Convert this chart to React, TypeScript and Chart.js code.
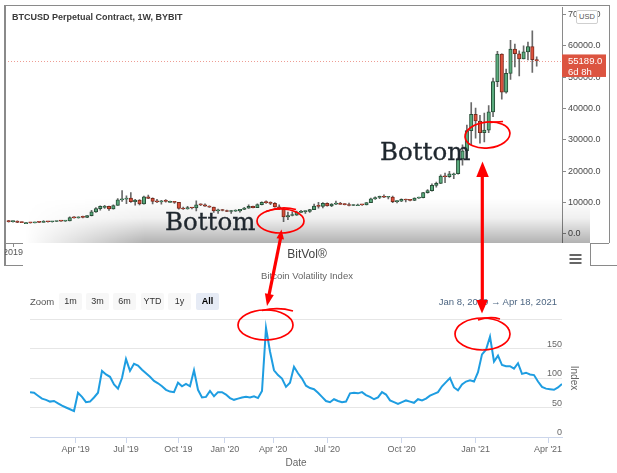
import React, { useEffect, useRef } from "react";
import { Chart, registerables } from "chart.js";

Chart.register(...registerables);

// ---------- Top chart: BTCUSD weekly candles (week 0 = 2018-12-24) ----------
const candleOpen = [
  4000, 3850, 4050, 3600, 3550, 3550, 3450, 3650, 3620, 3850, 3820, 3900, 4000, 3990, 4100, 5150, 5050, 5300, 5200, 5750,
  6950, 8000, 8700, 8700, 7950, 9000, 10800, 11000, 11400, 10200, 10700, 9500, 11800, 11300, 10300, 10150, 10350, 10300, 10300, 10000,
  8100, 7900, 8300, 8200, 9250, 9200, 8800, 8500, 7300, 7500, 7400, 7100, 7200, 7300, 7750, 8180, 8700, 8350, 9300, 10000,
  9900, 9700, 8550, 7950, 5350, 5800, 5900, 6800, 7050, 7100, 7700, 8800, 8700, 9700, 8900, 9450, 9700, 9350, 9300, 9000,
  9250, 9250, 9180, 9900, 11100, 11550, 11900, 11650, 11700, 10250, 10350, 10950, 10750, 10650, 11350, 11500, 13100, 13750, 15450, 16050,
  18400, 18200, 19150, 19150, 23850, 26450, 32950, 38150, 36000, 32250, 33100, 38900, 48600, 57400, 45200, 51200, 59000, 57500, 55800, 58100,
  59800, 55600,
];
const candleHigh = [
  4250, 4100, 4100, 3800, 3650, 3600, 3700, 3700, 4200, 3900, 3950, 4050, 4100, 4150, 5400, 5450, 5350, 5650, 5800, 7500,
  8300, 8900, 9050, 8800, 9250, 11200, 13800, 12100, 13100, 11000, 10900, 12000, 12300, 11450, 10950, 10650, 10900, 10450, 10300, 10050,
  8500, 8700, 8450, 10500, 9500, 9500, 8900, 8500, 7850, 7750, 7550, 7500, 7650, 7550, 8450, 9200, 8800, 9550, 10150, 10500,
  10200, 9950, 9200, 8200, 6900, 6950, 7200, 7450, 7300, 7750, 9450, 10050, 9900, 9850, 9650, 10400, 10000, 9600, 9750, 9300,
  9450, 9250, 9950, 11400, 11800, 12050, 12450, 11800, 12050, 10600, 11150, 11050, 10950, 11450, 11700, 13250, 14100, 15950, 16500, 18800,
  19400, 19900, 19400, 24200, 28400, 34700, 41900, 40100, 37800, 38500, 40900, 49700, 58300, 57500, 52600, 61800, 60600, 58400, 60000, 61200,
  64800, 56500,
];
const candleLow = [
  3650, 3700, 3550, 3500, 3450, 3380, 3400, 3550, 3600, 3700, 3700, 3850, 3900, 3950, 4100, 4950, 4950, 5000, 5150, 5700,
  6800, 7500, 8100, 7450, 7800, 9000, 10300, 9600, 10000, 9100, 9200, 9400, 11200, 9500, 9900, 9400, 10050, 9950, 9650, 7800,
  7750, 7800, 7900, 7300, 8950, 8700, 8400, 6800, 6500, 7250, 7000, 6450, 7100, 6900, 7700, 8100, 8250, 8300, 9150, 9700,
  9300, 8500, 7650, 3800, 4500, 5700, 5850, 6750, 6500, 6800, 7650, 8150, 8200, 8800, 8650, 9300, 9350, 9200, 8900, 8950,
  9100, 9050, 9150, 9900, 10950, 11150, 11500, 11100, 9900, 9850, 10200, 10150, 10450, 10550, 11250, 11400, 12950, 13600, 14850, 15950,
  16300, 18000, 17600, 19000, 21900, 26000, 28400, 30500, 28900, 29300, 32300, 37400, 47000, 43000, 44900, 49300, 53300, 50400, 55800, 55500,
  51500, 53500,
];
const candleClose = [
  3850, 4050, 3600, 3550, 3550, 3450, 3650, 3620, 3850, 3820, 3900, 4000, 3990, 4100, 5150, 5050, 5300, 5200, 5750, 6950,
  8000, 8700, 8700, 7950, 9000, 10800, 11000, 11400, 10200, 10700, 9500, 11800, 11300, 10300, 10150, 10350, 10300, 10300, 10000, 8100,
  7900, 8300, 8200, 9250, 9200, 8800, 8500, 7300, 7500, 7400, 7100, 7200, 7300, 7750, 8180, 8700, 8350, 9300, 10000, 9900,
  9700, 8550, 7950, 5350, 5800, 5900, 6800, 7050, 7100, 7700, 8800, 8700, 9700, 8900, 9450, 9700, 9350, 9300, 9000, 9250,
  9250, 9180, 9900, 11100, 11550, 11900, 11650, 11700, 10250, 10350, 10950, 10750, 10650, 11350, 11500, 13100, 13750, 15450, 16050, 18400,
  18200, 19150, 19150, 23850, 26450, 32950, 38150, 36000, 32250, 33100, 38900, 48600, 57400, 45200, 51200, 59000, 57500, 55800, 58100, 59800,
  55600, 55189,
];
const priceTicks = [0, 10000, 20000, 30000, 40000, 50000, 60000, 70000];
const lastPrice = candleClose[candleClose.length - 1];
const timeLeftLabel = "6d 8h";
const topTitle = "BTCUSD Perpetual Contract, 1W, BYBIT";

// ---------- Bottom chart: BitVol (ordinal, evenly spaced samples) ----------
const bitvolValues = [
  76, 75, 70, 65, 63, 60, 61, 57, 53, 50, 47, 44, 75, 68, 59, 60, 67, 75, 112, 106,
  102, 89, 82, 100, 132, 112, 124, 121, 114, 108, 102, 95, 91, 86, 80, 77, 76, 92, 86, 90,
  86, 113, 80, 67, 68, 78, 69, 76, 76, 72, 66, 63, 65, 67, 68, 67, 69, 66, 78, 185,
  145, 113, 105, 99, 85, 92, 119, 108, 99, 87, 83, 81, 75, 68, 61, 59, 64, 61, 59, 60,
  74, 75, 74, 76, 71, 68, 64, 67, 76, 72, 62, 59, 56, 59, 62, 60, 58, 64, 62, 65,
  70, 73, 76, 86, 93, 100, 84, 79, 89, 94, 96, 94, 110, 140, 148, 170, 128, 138, 122, 120,
  120, 116, 125, 107, 109, 106, 105, 94, 85, 82, 81, 80, 84, 90,
];
const bitvolTickLabels = ["Apr '19", "Jul '19", "Oct '19", "Jan '20", "Apr '20", "Jul '20", "Oct '20", "Jan '21", "Apr '21"];
const bitvolTickIndex = [11.4, 24, 37.1, 48.7, 60.8, 74.3, 92.9, 111.4, 129.5];
const bitvolYTicks = [0, 50, 100, 150, 200];
const zoomButtons = ["1m", "3m", "6m", "YTD", "1y", "All"];
const rangeText = "Jan 8, 2019 \u2192 Apr 18, 2021";

const SANS = "'Liberation Sans', Arial, sans-serif";

const priceLinePlugin = {
  id: "priceLine",
  beforeDatasetsDraw(chart: any) {
    const { ctx, chartArea, scales } = chart;
    const y = Math.round(scales.y.getPixelForValue(lastPrice)) + 0.5;
    ctx.save();
    ctx.strokeStyle = "#ee9d94";
    ctx.lineWidth = 1;
    ctx.setLineDash([1, 2]);
    ctx.beginPath();
    ctx.moveTo(chartArea.left, y);
    ctx.lineTo(chartArea.right, y);
    ctx.stroke();
    ctx.restore();
  },
  afterDraw(chart: any) {
    const { ctx, chartArea, scales } = chart;
    const y = scales.y.getPixelForValue(lastPrice);
    ctx.save();
    ctx.fillStyle = "#dc5440";
    ctx.fillRect(chartArea.right, y - 6.5, 44, 22.5);
    ctx.fillStyle = "#ffffff";
    ctx.font = "9.5px " + SANS;
    ctx.textAlign = "left";
    ctx.textBaseline = "middle";
    ctx.fillText(lastPrice.toFixed(1), chartArea.right + 6, y + 0.5);
    ctx.fillText(timeLeftLabel, chartArea.right + 6, y + 11.5);
    ctx.restore();
  },
};

export default function App() {
  const topRef = useRef<HTMLCanvasElement>(null);
  const botRef = useRef<HTMLCanvasElement>(null);

  useEffect(() => {
    Chart.defaults.font.family = SANS;
    const isUp = candleClose.map((c, i) => c >= candleOpen[i]);
    const top = new Chart(topRef.current as HTMLCanvasElement, {
      type: "bar",
      data: {
        datasets: [
          {
            label: "wick",
            data: candleHigh.map((h, i) => ({ x: i, y: [candleLow[i], h] })) as any,
            backgroundColor: "#6a6a6a",
            barThickness: 1,
            grouped: false,
            order: 2,
          } as any,
          {
            label: "body",
            data: candleOpen.map((o, i) => ({ x: i, y: [o, candleClose[i]] })) as any,
            backgroundColor: isUp.map((u) => (u ? "#5aab7d" : "#de513c")),
            borderColor: isUp.map((u) => (u ? "#284f38" : "#7a2a1d")),
            borderWidth: 1,
            borderSkipped: false,
            barThickness: 3.5,
            minBarLength: 1,
            grouped: false,
            order: 1,
          } as any,
        ],
      },
      options: {
        animation: false,
        responsive: false,
        maintainAspectRatio: false,
        layout: { padding: { left: 5, top: 5, right: 0, bottom: 7 } },
        plugins: { legend: { display: false }, tooltip: { enabled: false } },
        scales: {
          x: { type: "linear", display: false, min: -0.83, max: 126.8, offset: false },
          y: {
            position: "right",
            min: -2850,
            max: 72300,
            afterBuildTicks: (s: any) => {
              s.ticks = priceTicks.map((v) => ({ value: v }));
            },
            afterFit: (s: any) => {
              s.width = 55;
            },
            grid: { drawOnChartArea: false, drawTicks: true, tickLength: 4, color: "#8a8a8a" },
            border: { display: true, color: "#8a8a8a" },
            ticks: {
              padding: 2,
              color: "#4a4a4a",
              font: { size: 9 },
              callback: (v: any) => Number(v).toFixed(1),
            },
          },
        },
      } as any,
      plugins: [priceLinePlugin],
    });

    const bot = new Chart(botRef.current as HTMLCanvasElement, {
      type: "line",
      data: {
        datasets: [
          {
            data: bitvolValues.map((v, i) => ({ x: i, y: v })),
            borderColor: "#1e9de1",
            borderWidth: 2,
            pointRadius: 0,
            tension: 0,
            fill: false,
          },
        ],
      },
      options: {
        animation: false,
        responsive: false,
        maintainAspectRatio: false,
        layout: { padding: { left: 30, top: 19, right: 0, bottom: 0 } },
        plugins: { legend: { display: false }, tooltip: { enabled: false } },
        scales: {
          x: {
            type: "linear",
            min: 0,
            max: bitvolValues.length - 1,
            afterBuildTicks: (s: any) => {
              s.ticks = bitvolTickIndex.map((v) => ({ value: v }));
            },
            afterFit: (s: any) => {
              s.height = 36;
            },
            grid: { drawOnChartArea: false, drawTicks: true, tickLength: 6, color: "#ccd6eb" },
            border: { display: true, color: "#ccd6eb" },
            ticks: {
              autoSkip: false,
              maxRotation: 0,
              padding: 1,
              color: "#666",
              font: { size: 9 },
              callback: (_v: any, i: number) => bitvolTickLabels[i],
            },
            title: { display: true, text: "Date", color: "#666", font: { size: 10 }, padding: { top: 0, bottom: 4 } },
          },
          y: {
            position: "right",
            min: 0,
            max: 200,
            afterBuildTicks: (s: any) => {
              s.ticks = bitvolYTicks.map((v) => ({ value: v }));
            },
            afterFit: (s: any) => {
              s.width = 55;
            },
            grid: { color: "#e6e6e6", drawTicks: false },
            border: { display: false },
            ticks: {
              mirror: true,
              padding: 0,
              labelOffset: -4,
              color: "#666",
              font: { size: 9 },
              callback: (v: any) => (v === 200 ? "" : String(v)),
            },
            title: { display: true, text: "Index", color: "#666", font: { size: 10 }, padding: { top: 37.5, bottom: 0 } },
          },
        },
      } as any,
    });

    return () => {
      top.destroy();
      bot.destroy();
    };
  }, []);

  const line = (l: number, t: number, w: number, h: number, c = "#8a8a8a") => (
    <div style={{ position: "absolute", left: l, top: t, width: w, height: h, background: c }} />
  );

  const btnLeft = [59, 86, 113, 141, 168, 196];

  return (
    <div
      style={{
        position: "absolute",
        left: 0,
        top: 0,
        width: 617,
        height: 473,
        background: "#fff",
        overflow: "hidden",
        fontFamily: SANS,
      }}
    >
      <canvas ref={topRef} width={617} height={250} style={{ position: "absolute", left: 0, top: 0, width: 617, height: 250 }} />
      {/* shading under top chart */}
      <div
        style={{
          position: "absolute",
          left: 5,
          top: 198,
          width: 585,
          height: 45,
          background: "linear-gradient(to bottom, rgba(0,0,0,0) 0%, rgba(0,0,0,0.06) 45%, rgba(0,0,0,0.3) 100%)",
          WebkitMaskImage: "linear-gradient(to right, transparent 20px, black 140px)",
          maskImage: "linear-gradient(to right, transparent 20px, black 140px)",
        } as any}
      />
      {/* frame lines */}
      {line(4, 5, 605, 1)}
      {line(4, 5, 1.5, 260)}
      {line(609, 5, 1, 238)}
      {line(5, 243, 18, 1)}
      {line(13, 243, 1, 4)}
      {line(4, 265, 19, 1)}
      {line(590, 243, 19, 1)}
      {line(590, 243, 1, 22)}
      {line(590, 265, 27, 1)}
      <div style={{ position: "absolute", left: 5, top: 247, width: 18, height: 14, overflow: "hidden" }}>
        <div style={{ position: "absolute", left: -11, top: 0, width: 38, textAlign: "center", fontSize: 9, color: "#555" }}>2019</div>
      </div>
      <div style={{ position: "absolute", left: 12, top: 12, fontSize: 9, fontWeight: 600, color: "#3a3a3a", whiteSpace: "nowrap" }}>
        {topTitle}
      </div>
      <div
        style={{
          position: "absolute",
          left: 576,
          top: 10,
          width: 20,
          height: 12,
          background: "#fff",
          border: "1px solid #cfcfcf",
          borderRadius: 2,
          fontSize: 7.5,
          lineHeight: "12px",
          textAlign: "center",
          color: "#555",
        }}
      >
        USD
      </div>

      {/* bottom chart */}
      <canvas ref={botRef} width={617} height={173} style={{ position: "absolute", left: 0, top: 300, width: 617, height: 173 }} />
      <div style={{ position: "absolute", left: 0, top: 247, width: 614, textAlign: "center", fontSize: 12, color: "#444" }}>BitVol®</div>
      <div style={{ position: "absolute", left: 0, top: 270, width: 614, textAlign: "center", fontSize: 9.5, color: "#666" }}>
        Bitcoin Volatility Index
      </div>
      <div style={{ position: "absolute", left: 30, top: 296, fontSize: 9.5, color: "#555" }}>Zoom</div>
      {zoomButtons.map((b, i) => (
        <div
          key={b}
          style={{
            position: "absolute",
            left: btnLeft[i],
            top: 293,
            width: 23,
            height: 17,
            lineHeight: "17px",
            textAlign: "center",
            fontSize: 9,
            borderRadius: 2,
            background: b === "All" ? "#e6ebf5" : "#f7f7f7",
            color: b === "All" ? "#000" : "#333",
            fontWeight: b === "All" ? 700 : 400,
          }}
        >
          {b}
        </div>
      ))}
      <div style={{ position: "absolute", right: 617 - 557, top: 296, fontSize: 9.5, color: "#4d6682", whiteSpace: "nowrap" }}>
        {rangeText}
      </div>
      <svg width={617} height={473} style={{ position: "absolute", left: 0, top: 0, pointerEvents: "none" }}>
        {/* hamburger */}
        <rect x={569.5} y={254} width={12} height={2} fill="#666" />
        <rect x={569.5} y={258} width={12} height={2} fill="#666" />
        <rect x={569.5} y={262} width={12} height={2} fill="#666" />
        {/* annotations */}
        <text x={165} y={229.5} fontFamily="'DejaVu Serif', serif" fontSize={24.5} fill="#1f272e" stroke="#1f272e" strokeWidth={0.35}>
          Bottom
        </text>
        <text x={380} y={159.5} fontFamily="'DejaVu Serif', serif" fontSize={24.5} fill="#1f272e" stroke="#1f272e" strokeWidth={0.35}>
          Bottom
        </text>
        <g stroke="#f00" fill="none" strokeWidth={1.7}>
          <ellipse cx={280.5} cy={221} rx={23.5} ry={12} />
          <path d="M 266 211.5 Q 281 205.5 296 209.5" />
          <ellipse cx={487.5} cy={135} rx={22.5} ry={13} transform="rotate(-6 487.5 135)" />
          <path d="M 490 122.5 L 503 121.5" />
          <ellipse cx={265.5} cy={325} rx={27.5} ry={15} />
          <path d="M 262 310.5 Q 278 306.5 293 311" />
          <ellipse cx={482.5} cy={334} rx={27.5} ry={16} />
          <path d="M 478 320 Q 490 316 500 319" />
        </g>
        <g stroke="#f00" strokeWidth={3.2} fill="#f00">
          <line x1={281} y1={236} x2={268.8} y2={296} />
          <line x1={482.3} y1={172} x2={482.3} y2={304} />
        </g>
        <g fill="#f00">
          <polygon points="267,306 273.8,295 264.9,293.3" />
          <polygon points="281.5,229.5 284,239.5 276.5,238.3" />
          <polygon points="482.5,161.5 488.8,177 476.3,177" />
          <polygon points="482,313.5 487.8,300 476.4,300" />
        </g>
      </svg>
    </div>
  );
}
